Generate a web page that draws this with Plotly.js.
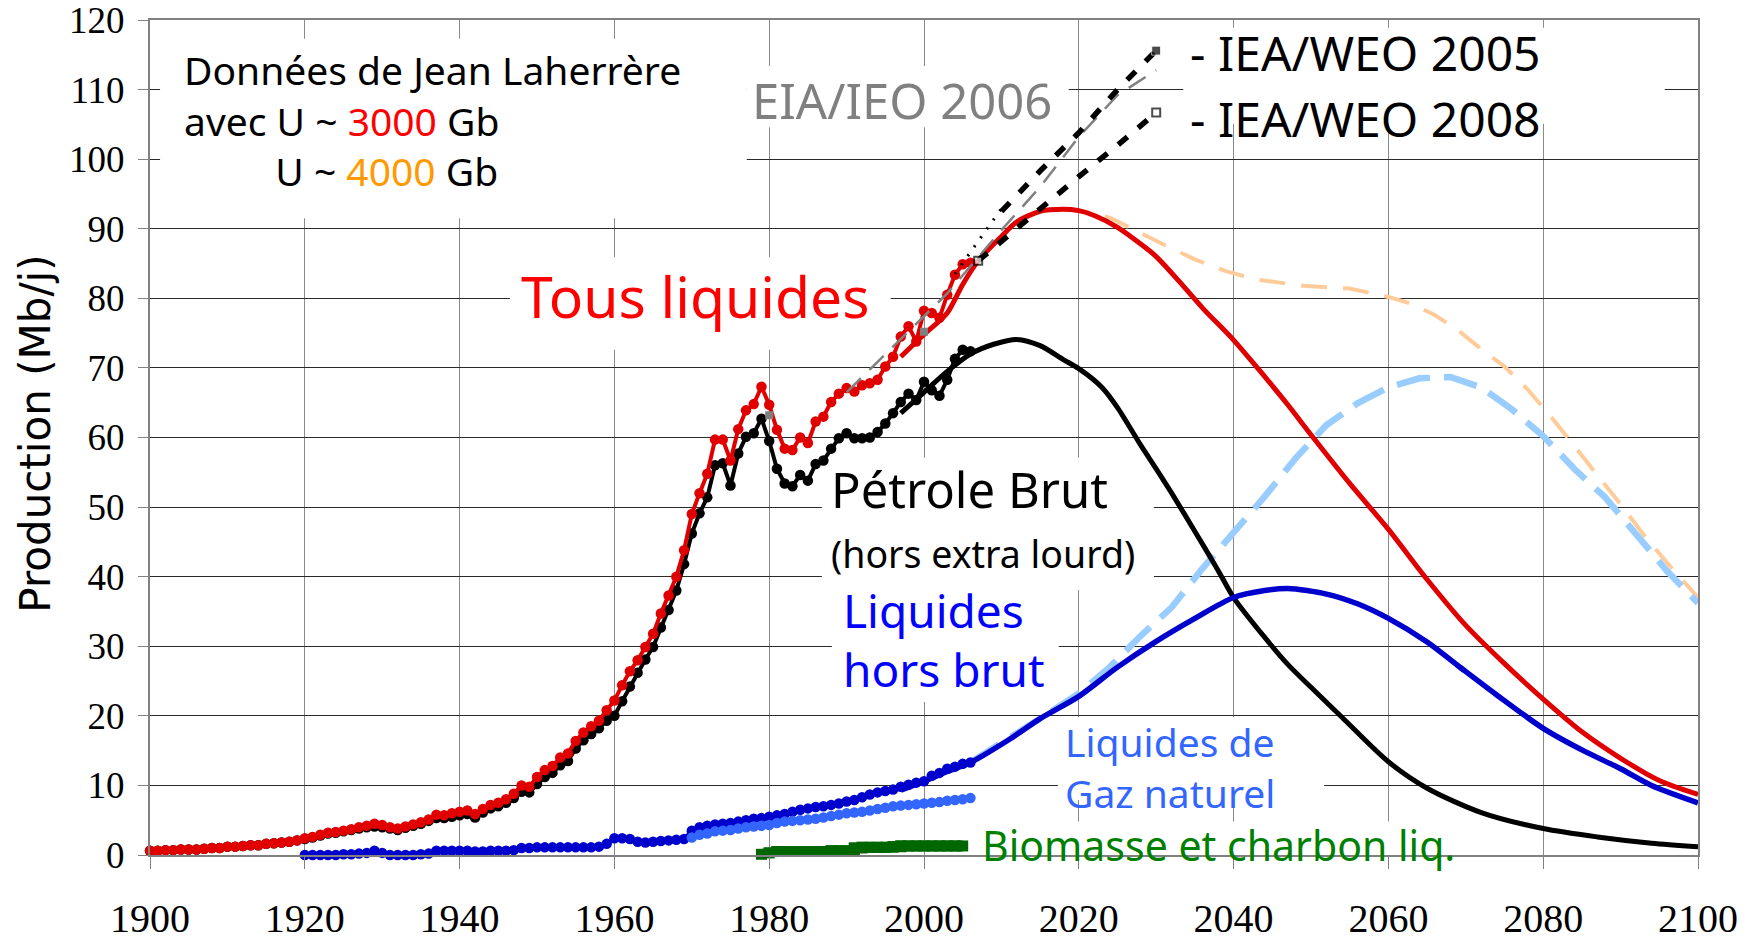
<!DOCTYPE html>
<html>
<head>
<meta charset="utf-8">
<script src="https://cdn.plot.ly/plotly-3.0.1.min.js"></script>
<style>
html,body{margin:0;padding:0;background:#fff;}
#chart{width:1750px;height:941px;}
</style>
</head>
<body>
<div id="chart"></div>
<script>
// ---------- DATA ----------
const histStartYear = 1900;
const tousLiquidesHist = [
 0.6,0.6,0.7,0.7,0.8,0.8,0.8,0.9,1.0,1.0,
 1.2,1.2,1.3,1.4,1.4,1.6,1.7,1.8,1.9,2.1,
 2.4,2.6,2.9,3.2,3.3,3.5,3.7,4.0,4.2,4.5,
 4.3,4.0,3.8,4.1,4.4,4.7,5.1,5.8,5.7,6.0,
 6.2,6.4,5.9,6.6,7.2,7.5,8.0,8.8,10.0,9.8,
 11.2,12.2,12.8,14.0,14.6,16.4,17.6,18.5,19.3,20.8,
 22.2,24.4,26.4,28.0,29.9,31.8,34.7,37.3,40.0,43.8,
 49.0,52.0,54.8,59.7,59.7,56.7,61.2,63.9,64.8,67.3,
 64.7,61.1,58.4,58.2,60.0,59.2,62.3,63.0,65.1,66.3,
 67.1,66.6,67.5,67.8,68.3,70.2,71.6,74.5,76.0,73.8,
 78.2,77.9,77.2,80.5,83.4,84.9,85.1];
const petroleBrutHist = [
 0.6,0.6,0.7,0.7,0.8,0.8,0.8,0.9,1.0,1.0,
 1.2,1.2,1.3,1.4,1.4,1.6,1.7,1.8,1.9,2.1,
 2.3,2.5,2.8,3.1,3.2,3.4,3.6,3.8,4.0,4.1,
 4.0,3.8,3.6,3.9,4.2,4.5,4.9,5.3,5.3,5.5,
 5.7,5.9,5.4,6.1,6.7,7.0,7.5,8.2,9.1,9.0,
 10.2,11.2,11.8,12.9,13.5,15.3,16.5,17.4,18.2,19.3,
 20.0,22.1,24.2,26.2,28.1,29.9,32.7,35.2,38.0,41.8,
 46.2,49.1,51.4,56.0,56.3,53.1,57.7,60.1,60.6,62.7,
 59.5,55.5,53.4,53.0,54.6,53.8,56.2,56.7,58.4,59.9,
 60.6,59.9,59.9,60.0,60.8,62.0,63.5,65.1,66.3,65.4,
 68.0,66.8,66.0,68.3,71.3,72.6,72.4];
const horsBrutStartYear = 1920;
const horsBrutHist = [
 0.0,0.0,0.0,0.0,0.0,0.1,0.1,0.2,0.3,0.6,
 0.3,0.0,0.0,0.0,0.0,0.1,0.2,0.6,0.6,0.6,
 0.6,0.6,0.5,0.5,0.6,0.6,0.6,0.7,1.0,1.0,
 1.1,1.1,1.1,1.1,1.1,1.1,1.1,1.1,1.2,1.6,
 2.4,2.4,2.3,1.9,1.8,1.9,2.0,2.1,2.2,2.3,
 3.5,4.0,4.2,4.4,4.5,4.6,4.8,5.0,5.2,5.3,
 5.5,5.7,5.9,6.2,6.5,6.7,6.9,7.0,7.2,7.4,
 7.7,7.9,8.3,8.7,9.0,9.2,9.4,9.8,10.1,10.4,
 10.6,11.4,11.8,12.4,12.7,13.1,13.3];
const gazNatStartYear = 1970;
const gazNatHist = [
 2.5,2.9,3.1,3.4,3.5,3.6,3.8,4.0,4.1,4.2,
 4.3,4.6,4.8,4.9,5.0,5.1,5.2,5.4,5.6,5.8,
 6.0,6.1,6.2,6.4,6.6,6.8,7.0,7.1,7.2,7.3,
 7.4,7.5,7.6,7.8,7.9,8.0,8.2];
const biomasseStartYear = 1979;
const biomasseHist = [
 0.1,0.3,0.5,0.5,0.5,0.5,0.5,0.5,0.5,0.6,0.6,0.6,1.0,1.1,1.1,1.1,1.1,1.2,1.3,1.3,1.3,1.3,1.3,1.3,1.3,1.3,1.3];

// Model curves, U ~ 3000 Gb
const tousModelYears = [1997,2000,2003,2005,2007,2010,2012,2015,2018,2020,2022,2025,2028,2030,2033,2036,2040,2043,2047,2050,2055,2060,2065,2070,2075,2080,2085,2090,2095,2100];
const tousModelVals  = [71.6,74.8,77.9,82.0,85.4,88.9,91.0,92.5,92.8,92.6,91.9,90.2,87.8,86.0,82.4,78.6,74.0,70.1,64.7,60.4,53.4,46.8,39.6,33.0,27.5,22.4,17.7,13.9,10.7,8.7];
const brutModelYears = [1997,2000,2003,2006,2009,2012,2015,2018,2020,2023,2025,2028,2030,2032,2035,2038,2040,2044,2047,2050,2054,2060,2065,2072,2080,2087,2094,2100];
const brutModelVals  = [63.5,66.5,69.5,72.0,73.4,74.1,73.2,71.2,69.9,67.2,64.3,58.9,55.5,52.0,46.5,40.9,37.0,31.3,27.4,24.1,19.8,13.4,9.6,6.1,3.8,2.6,1.7,1.2];
const horsBrutModelYears = [1997,2000,2003,2006,2011,2015,2020,2025,2030,2035,2040,2044,2047,2052,2056,2060,2065,2069,2074,2080,2085,2090,2094,2100];
const horsBrutModelVals  = [9.3,10.6,12.0,13.3,16.6,19.6,22.8,27.0,30.7,34.0,37.0,38.0,38.3,37.5,36.1,34.0,30.6,27.2,23.0,18.2,15.1,12.4,10.0,7.5];

// Model curves, U ~ 4000 Gb
const tous4000Years = [2018,2021,2024,2027,2031,2035,2039,2043,2049,2055,2060,2063,2066,2069,2072,2075,2078,2081,2084,2087,2090,2093,2096,2100];
const tous4000Vals  = [92.8,92.4,91.6,89.9,87.7,85.6,83.9,82.7,81.8,81.4,80.2,79.2,77.6,75.4,72.7,70.2,66.9,63.0,58.8,54.8,50.4,46.0,42.0,37.0];
const horsBrut4000Years = [2006,2010,2015,2020,2024,2028,2032,2036,2040,2044,2048,2052,2056,2060,2064,2068,2072,2076,2080,2084,2088,2092,2096,2100];
const horsBrut4000Vals  = [13.3,16.0,19.6,23.2,27.0,31.5,35.6,41.2,46.2,51.5,57.0,61.8,64.9,67.2,68.5,68.7,67.2,64.0,60.2,55.5,51.4,46.0,40.8,36.2];

// Agency projections
const eiaYears = [1990,2003,2010,2015,2020,2025,2030];
const eiaVals  = [66.5,80.7,89.8,96.0,103.2,109.2,112.8];
const eiaPointYears = [1980,2000];
const eiaPointVals  = [63.2,75.2];
const weo2005DotYears = [2004,2010];
const weo2005DotVals  = [83.5,92.9];
const weo2005Years = [2010,2015,2020,2025,2030];
const weo2005Vals  = [92.5,98.3,103.8,110.0,115.6];
const weo2008Years = [2007,2015,2020,2025,2030];
const weo2008Vals  = [85.4,93.0,97.5,102.0,106.7];

// Axis ticks
const xTickVals = [1900,1920,1940,1960,1980,2000,2020,2040,2060,2080,2100];
const yTickVals = [0,10,20,30,40,50,60,70,80,90,100,110,120];

// ---------- STYLES ----------
const RED = '#E00000', BLACK = '#000000', BLUE = '#0000CC', NGL = '#3366FF', GREEN = '#006600';
const ORANGE_D = '#FFCC99', LBLUE_D = '#99CCFF', GRAY = '#808080';
const TXT = 'Noto Sans, DejaVu Sans, sans-serif';

const traces = [
  {x: tous4000Years, y: tous4000Vals, mode: 'lines', line: {color: ORANGE_D, width: 4, dash: '26px,16px'}},
  {x: horsBrut4000Years, y: horsBrut4000Vals, mode: 'lines', line: {color: LBLUE_D, width: 6.5, dash: '34px,14px'}},
  {x: brutModelYears, y: brutModelVals, mode: 'lines', line: {color: BLACK, width: 5, shape: 'spline', smoothing: 0.8}},
  {x0: histStartYear, dx: 1, y: petroleBrutHist, mode: 'lines+markers', line: {color: BLACK, width: 4}, marker: {color: BLACK, size: 10.5}, cliponaxis: false},
  {x: horsBrutModelYears, y: horsBrutModelVals, mode: 'lines', line: {color: BLUE, width: 5.5, shape: 'spline', smoothing: 0.8}},
  {x0: horsBrutStartYear, dx: 1, y: horsBrutHist, mode: 'lines+markers', line: {color: BLUE, width: 4}, marker: {color: BLUE, size: 10.5}, cliponaxis: false},
  {x0: gazNatStartYear, dx: 1, y: gazNatHist, mode: 'lines+markers', line: {color: NGL, width: 4}, marker: {color: NGL, size: 10.5}, cliponaxis: false},
  {x0: biomasseStartYear, dx: 1, y: biomasseHist, mode: 'lines+markers', line: {color: GREEN, width: 11, shape: 'hv'}, marker: {color: GREEN, size: 11, symbol: 'square'}, cliponaxis: false},
  {x: tousModelYears, y: tousModelVals, mode: 'lines', line: {color: RED, width: 5, shape: 'spline', smoothing: 0.8}},
  {x0: histStartYear, dx: 1, y: tousLiquidesHist, mode: 'lines+markers', line: {color: RED, width: 4}, marker: {color: RED, size: 10.5}, cliponaxis: false},
  {x: eiaYears, y: eiaVals, mode: 'lines', line: {color: GRAY, width: 2.5, dash: '20px,12px'}},
  {x: eiaPointYears, y: eiaPointVals, mode: 'markers', marker: {color: GRAY, size: 8, symbol: 'square'}},
  {x: weo2005DotYears, y: weo2005DotVals, mode: 'lines', line: {color: BLACK, width: 3, dash: '2px,9px'}},
  {x: weo2005Years, y: weo2005Vals, mode: 'lines+markers', line: {color: BLACK, width: 5.5, dash: '12px,14px'},
   marker: {color: BLACK, symbol: 'square', size: [0,0,0,0,9]}},
  {x: weo2008Years, y: weo2008Vals, mode: 'lines+markers', line: {color: BLACK, width: 5.5, dash: '12px,14px'},
   marker: {color: '#FFFFFF', symbol: 'square', size: [8,0,0,0,8], line: {color: BLACK, width: 2}}}
];

// White label boxes (hide gridlines behind text, like the original)
function box(x0, x1, y0, y1, layer) {
  return {type: 'rect', xref: 'x', yref: 'y', x0: x0, x1: x1, y0: y0, y1: y1,
          fillcolor: '#FFFFFF', line: {width: 0}, layer: layer || 'between'};
}
const shapes = [
  box(1901.3, 1977.1, 91.5, 117.3),
  box(1977.1, 2018.7, 104.6, 113.4),
  box(2033.5, 2095.7, 105.1, 118.9),
  box(1946.5, 1995.7, 72.6, 85.9),
  box(1986.8, 2029.7, 38.1, 57.1),
  box(1988.1, 2017.4, 22.0, 38.1),
  box(2017.3, 2051.7, 7.9, 19.8),
  box(2006.3, 2073.0, -1.0, 4.8, 'above')
];

function lab(text, x, y, size, color) {
  return {text: text, x: x, y: y, xref: 'x', yref: 'y', xanchor: 'left', yanchor: 'middle',
          showarrow: false, align: 'left', font: {family: TXT, size: size, color: color}};
}
const NB = '\u00A0';
const annotations = [
  lab('Données de Jean Laherrère<br>avec U ~ <span style="color:#FF0000">3000</span> Gb<br>' +
      NB.repeat(9) + 'U ~ <span style="color:#FF9900">4000</span> Gb', 1904.1, 105.6, 39, BLACK),
  lab('EIA/IEO 2006', 1977.5, 108.5, 49, GRAY),
  lab('- IEA/WEO 2005', 2034.1, 115.4, 48, BLACK),
  lab('- IEA/WEO 2008', 2034.1, 105.8, 48, BLACK),
  lab('Tous liquides', 1947.7, 80.3, 57, '#FF0000'),
  lab('<span style="font-size:49px">Pétrole Brut</span><br>' +
      '<span style="font-size:37.5px">(hors extra lourd)</span><br>' +
      '<span style="color:#0000FF">' + NB + 'Liquides</span><br>' +
      '<span style="color:#0000FF">' + NB + 'hors brut</span>', 1987.7, 39.8, 46, BLACK),
  lab('Liquides de<br>Gaz naturel', 2018.0, 12.65, 39, NGL),
  lab('Biomasse et charbon liq.', 2007.2, 1.44, 41, '#008000'),
  {text: 'Production (Mb/j)', xref: 'paper', yref: 'paper', x: -0.0736, y: 0.5047,
   xanchor: 'center', yanchor: 'middle', textangle: -90, showarrow: false,
   font: {family: 'DejaVu Sans, sans-serif', size: 42, color: BLACK}}
];

const layout = {
  width: 1750, height: 941,
  margin: {l: 150, r: 52, t: 20, b: 86},
  paper_bgcolor: '#FFFFFF', plot_bgcolor: '#FFFFFF',
  showlegend: false,
  xaxis: {
    range: [1900, 2100], tickvals: xTickVals, ticktext: xTickVals.map(String),
    showgrid: true, gridcolor: '#8a8a8a', gridwidth: 1, zeroline: false,
    showline: true, linecolor: GRAY, linewidth: 2, mirror: true,
    ticks: 'outside', ticklen: 12, tickcolor: GRAY, tickwidth: 1,
    ticklabelstandoff: 15, ticklabeloverflow: 'allow',
    tickfont: {family: 'Liberation Serif, Times New Roman, serif', size: 40, color: BLACK}
  },
  yaxis: {
    range: [0, 120], tickvals: yTickVals, ticktext: yTickVals.map(String),
    showgrid: true, gridcolor: '#2a2a2a', gridwidth: 1, zeroline: false,
    showline: true, linecolor: GRAY, linewidth: 2, mirror: true,
    ticks: 'outside', ticklen: 10, tickcolor: GRAY, tickwidth: 1,
    ticklabelstandoff: 6, ticklabeloverflow: 'allow',
    tickfont: {family: 'Liberation Serif, Times New Roman, serif', size: 37, color: BLACK}
  },
  shapes: shapes,
  annotations: annotations
};

Plotly.newPlot('chart', traces, layout, {staticPlot: true, displayModeBar: false});
</script>
</body>
</html>
